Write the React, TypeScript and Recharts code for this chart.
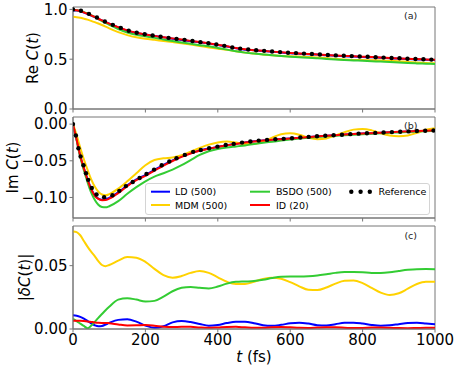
import React from "react";
import { ComposedChart, Line, XAxis, YAxis, ReferenceArea } from "recharts";

// time grid (fs) shared by the method curves
const T = [
  0, 10, 20, 30, 40, 50, 60, 70, 80, 90, 100,
  125, 150, 175, 200, 225, 250, 275, 300,
  325, 350, 375, 400, 425, 450, 475, 500,
  525, 550, 575, 600, 625, 650, 675, 700,
  725, 750, 775, 800, 825, 850, 875, 900,
  925, 950, 975, 1000,
];

// Re C(t)
const reLD = [
  0.99, 0.988, 0.98, 0.968, 0.954, 0.939, 0.923, 0.906, 0.889, 0.873, 0.857,
  0.82, 0.786, 0.762, 0.748, 0.734, 0.719, 0.706, 0.693,
  0.681, 0.67, 0.658, 0.643, 0.627, 0.609, 0.596, 0.589,
  0.582, 0.575, 0.567, 0.56, 0.555, 0.55, 0.546, 0.54,
  0.535, 0.53, 0.526, 0.522, 0.519, 0.515, 0.51, 0.506,
  0.501, 0.498, 0.494, 0.492,
];
const reMDM = [
  0.925, 0.922, 0.916, 0.907, 0.897, 0.885, 0.872, 0.858, 0.843, 0.827, 0.81,
  0.772, 0.742, 0.72, 0.705, 0.694, 0.683, 0.672, 0.661,
  0.647, 0.632, 0.618, 0.606, 0.594, 0.579, 0.566, 0.556,
  0.547, 0.539, 0.533, 0.529, 0.526, 0.523, 0.518, 0.511,
  0.503, 0.497, 0.493, 0.491, 0.49, 0.488, 0.485, 0.48,
  0.473, 0.467, 0.462, 0.459,
];
const reBSDO = [
  0.993, 0.991, 0.984, 0.973, 0.96, 0.943, 0.924, 0.903, 0.883, 0.864, 0.846,
  0.803, 0.768, 0.744, 0.73, 0.714, 0.697, 0.682, 0.668,
  0.654, 0.641, 0.629, 0.613, 0.596, 0.58, 0.566, 0.556,
  0.548, 0.539, 0.531, 0.525, 0.52, 0.515, 0.509, 0.503,
  0.497, 0.492, 0.488, 0.484, 0.48, 0.476, 0.472, 0.467,
  0.462, 0.458, 0.455, 0.452,
];
const reID = [
  0.994, 0.992, 0.983, 0.97, 0.955, 0.94, 0.924, 0.906, 0.89, 0.873, 0.857,
  0.822, 0.789, 0.765, 0.749, 0.734, 0.72, 0.709, 0.697,
  0.684, 0.672, 0.659, 0.644, 0.629, 0.612, 0.599, 0.591,
  0.584, 0.576, 0.569, 0.563, 0.558, 0.553, 0.548, 0.542,
  0.537, 0.533, 0.529, 0.525, 0.521, 0.516, 0.512, 0.508,
  0.504, 0.501, 0.497, 0.494,
];

// Im C(t)
const imLD = [
  0, -0.021, -0.043, -0.06, -0.075, -0.088, -0.097, -0.1015, -0.103, -0.1025, -0.1005,
  -0.093, -0.0835, -0.0755, -0.0695, -0.0625, -0.0555, -0.0495, -0.044,
  -0.0395, -0.036, -0.0333, -0.031, -0.0287, -0.0268, -0.025, -0.0235,
  -0.0222, -0.0212, -0.0204, -0.0196, -0.0186, -0.0176, -0.0167, -0.0159,
  -0.0151, -0.0143, -0.0136, -0.0129, -0.0123, -0.0117, -0.0111, -0.0106,
  -0.01, -0.0095, -0.0091, -0.0087,
];
const imMDM = [
  0, -0.015, -0.032, -0.048, -0.062, -0.075, -0.085, -0.092, -0.096, -0.097, -0.0955,
  -0.088, -0.078, -0.067, -0.056, -0.049, -0.0465, -0.0455, -0.0425,
  -0.0375, -0.0325, -0.028, -0.025, -0.0238, -0.0252, -0.0272, -0.027,
  -0.024, -0.0185, -0.0138, -0.0125, -0.0145, -0.0185, -0.0205, -0.0195,
  -0.0155, -0.011, -0.0075, -0.0065, -0.0085, -0.0125, -0.0155, -0.0165,
  -0.0155, -0.012, -0.0075, -0.0055,
];
const imBSDO = [
  0, -0.022, -0.045, -0.063, -0.079, -0.093, -0.103, -0.11, -0.113, -0.1135, -0.112,
  -0.105, -0.095, -0.086, -0.078, -0.0715, -0.067, -0.062, -0.056,
  -0.049, -0.042, -0.037, -0.034, -0.032, -0.0305, -0.029, -0.0272,
  -0.0255, -0.024, -0.0225, -0.021, -0.0197, -0.0185, -0.0175, -0.0167,
  -0.016, -0.0152, -0.0145, -0.0138, -0.0131, -0.0125, -0.0119, -0.0113,
  -0.0107, -0.0102, -0.0097, -0.0093,
];
const imID = [
  0, -0.021, -0.043, -0.06, -0.0755, -0.0885, -0.0975, -0.102, -0.1037, -0.1035, -0.1015,
  -0.094, -0.0845, -0.0765, -0.0705, -0.0635, -0.0565, -0.0503, -0.0447,
  -0.04, -0.0364, -0.0336, -0.0312, -0.0289, -0.027, -0.0252, -0.0236,
  -0.0223, -0.0213, -0.0205, -0.0197, -0.0187, -0.0177, -0.0167, -0.0159,
  -0.0151, -0.0143, -0.0136, -0.0129, -0.0123, -0.0117, -0.0111, -0.0105,
  -0.01, -0.0095, -0.009, -0.0087,
];

// |dC(t)|
const dLD = [
  0.0108, 0.0105, 0.0096, 0.0082, 0.0064, 0.0045, 0.003, 0.0022, 0.0024, 0.0035, 0.0048,
  0.0072, 0.0076, 0.0058, 0.0028, 0.0009, 0.0022, 0.0052, 0.0063,
  0.0055, 0.004, 0.0026, 0.0032, 0.0047, 0.0057, 0.0057, 0.0046,
  0.003, 0.0025, 0.0033, 0.0045, 0.005, 0.0043, 0.003, 0.0028,
  0.0038, 0.0049, 0.005, 0.0043, 0.0032, 0.0026, 0.0029, 0.0038,
  0.0047, 0.005, 0.0044, 0.0037,
];
const dMDM = [
  0.077, 0.0765, 0.074, 0.0695, 0.065, 0.061, 0.0575, 0.0535, 0.0505, 0.0496, 0.0505,
  0.054, 0.0568, 0.0563, 0.053, 0.0475, 0.0425, 0.0405, 0.0418,
  0.0443, 0.0458, 0.0443, 0.0408, 0.0373, 0.0355, 0.0355, 0.0373,
  0.0395, 0.0405, 0.0397, 0.037, 0.0337, 0.031, 0.0308, 0.0328,
  0.0358, 0.038, 0.0383, 0.0362, 0.0325, 0.0287, 0.0268, 0.0282,
  0.0318, 0.0355, 0.0373, 0.0373,
];
const dBSDO = [
  0.008, 0.0062, 0.0043, 0.0024, 0.0006, 0.0025, 0.0055, 0.0088, 0.0118, 0.0148, 0.0175,
  0.0232, 0.0243, 0.0232, 0.0217, 0.0222, 0.0255, 0.0298, 0.0325,
  0.0332, 0.0325, 0.032, 0.0335, 0.0358, 0.0372, 0.0375, 0.0378,
  0.0388, 0.0402, 0.0412, 0.0414, 0.0414, 0.0416, 0.0422, 0.0432,
  0.0443, 0.0449, 0.0449, 0.0447, 0.0443, 0.0443, 0.0448, 0.0458,
  0.0467, 0.0472, 0.0473, 0.0472,
];
const dID = [
  0.0066, 0.0066, 0.0065, 0.0063, 0.006, 0.0056, 0.0052, 0.0049, 0.0048, 0.0048, 0.0046,
  0.0036, 0.0028, 0.0029, 0.0031, 0.0026, 0.0018, 0.0015, 0.0018,
  0.0017, 0.0012, 0.0009, 0.0012, 0.0016, 0.0017, 0.0013, 0.0009,
  0.001, 0.0014, 0.0016, 0.0013, 0.0009, 0.0008, 0.0011, 0.0014,
  0.0013, 0.001, 0.0007, 0.0008, 0.0011, 0.0012, 0.001, 0.0007,
  0.0006, 0.0008, 0.001, 0.0009,
];

// reference markers
const refReT = [
  0, 22, 44, 66, 88, 110, 132, 154, 176, 198, 220, 242, 264, 286, 308, 330,
  352, 374, 396, 418, 440, 462, 484, 506, 528, 550, 572, 594, 616, 638, 660,
  682, 704, 726, 748, 770, 792, 814, 836, 858, 880, 902, 924, 946, 968, 990,
];
const refRe = [
  1.0, 0.986, 0.955, 0.918, 0.879, 0.845, 0.814, 0.786, 0.765, 0.751, 0.738,
  0.725, 0.714, 0.704, 0.694, 0.682, 0.671, 0.66, 0.647, 0.634, 0.618, 0.606,
  0.597, 0.59, 0.584, 0.577, 0.571, 0.565, 0.561, 0.556, 0.552, 0.547, 0.542,
  0.538, 0.534, 0.531, 0.527, 0.524, 0.52, 0.516, 0.512, 0.509, 0.505, 0.502,
  0.499, 0.496,
];
const refImT = [
  0, 8, 15, 21, 29, 36, 42, 52, 65, 86, 109, 128, 146, 165, 184, 203, 224,
  245, 266, 286, 309, 332, 353, 376, 399, 422, 444, 467, 490, 513, 536, 559,
  582, 605, 628, 651, 674, 697, 720, 743, 766, 789, 812, 835, 858, 881, 904,
  927, 950, 973, 996,
];
const refIm = [
  0, -0.0156, -0.033, -0.044, -0.056, -0.067, -0.076, -0.087, -0.096, -0.0996,
  -0.097, -0.091, -0.0845, -0.079, -0.0735, -0.068, -0.062, -0.056, -0.051, -0.0466,
  -0.042, -0.0378, -0.0352, -0.0329, -0.0307, -0.0284, -0.027, -0.0252, -0.0238, -0.0225,
  -0.0215, -0.0206, -0.0201, -0.0192, -0.0183, -0.0174, -0.0165, -0.0158, -0.0151, -0.0144,
  -0.0137, -0.013, -0.0125, -0.012, -0.0114, -0.0109, -0.0104, -0.0099, -0.0094, -0.009,
  -0.0087,
];

const X_TICKS = [0, 200, 400, 600, 800, 1000];
const LEGEND_LABELS = ["LD (500)", "MDM (500)", "BSDO (500)", "ID (20)", "Reference"];

const FONT = "DejaVu Sans";
const AXIS = "#777";
const COLORS = ["#0000ff", "#ffd200", "#33cc33", "#ff0000"];

const zip = (ts: number[], vs: number[]) => ts.map((t, i) => ({ t, v: vs[i] }));

const fmt2 = (v: number) => (v < 0 ? "\u2212" : "") + Math.abs(v).toFixed(2);

function YLab({ viewBox, cx, kind }: any) {
  const cy = viewBox.y + viewBox.height / 2;
  const it = { fontStyle: "italic" as const };
  return (
    <text
      x={cx}
      y={cy}
      transform={`rotate(-90 ${cx} ${cy})`}
      textAnchor="middle"
      dominantBaseline="central"
      fontSize={15}
      fontFamily={FONT}
      fill="#000"
    >
      {kind === "re" && (
        <>
          Re <tspan {...it}>C</tspan>(<tspan {...it}>t</tspan>)
        </>
      )}
      {kind === "im" && (
        <>
          Im <tspan {...it}>C</tspan>(<tspan {...it}>t</tspan>)
        </>
      )}
      {kind === "d" && (
        <>
          |<tspan {...it}>δC</tspan>(<tspan {...it}>t</tspan>)|
        </>
      )}
    </text>
  );
}

function XLab({ viewBox }: any) {
  const cx = viewBox.x + viewBox.width / 2;
  const cy = viewBox.y + 28;
  return (
    <text x={cx} y={cy} textAnchor="middle" dominantBaseline="central" fontSize={15} fontFamily={FONT} fill="#000">
      <tspan fontStyle="italic">t</tspan> (fs)
    </text>
  );
}

function Panel({ top, height, mb = 0, bottom, domain, ticks, fmt, series, refPts, kind, labelX }: any) {
  return (
    <div style={{ position: "absolute", left: 0, top }}>
      <ComposedChart width={458} height={height} margin={{ top: 7, right: 23, bottom: mb, left: 0 }}>
        <XAxis
          dataKey="t"
          type="number"
          domain={[0, 1000]}
          ticks={X_TICKS}
          interval={0}
          allowDataOverflow
          height={bottom ? 37 : 4}
          tickSize={3.5}
          tickMargin={2}
          tickFormatter={bottom ? (v: number) => String(v) : () => ""}
          tick={{ fill: "#000", fontSize: 15, fontFamily: FONT }}
          axisLine={{ stroke: AXIS }}
          tickLine={{ stroke: AXIS }}
          label={bottom ? <XLab /> : undefined}
        />
        <YAxis
          type="number"
          domain={domain}
          ticks={ticks}
          interval={0}
          allowDataOverflow
          width={73}
          tickSize={3.5}
          tickMargin={2}
          tickFormatter={fmt}
          tick={{ fill: "#000", fontSize: 15, fontFamily: FONT }}
          axisLine={{ stroke: AXIS }}
          tickLine={{ stroke: AXIS }}
          label={<YLab cx={labelX} kind={kind} />}
        />
        <ReferenceArea x1={0} x2={1000} y1={domain[0]} y2={domain[1]} fill="none" stroke={AXIS} ifOverflow="visible" />
        {series.map((vals: number[], i: number) => (
          <Line
            key={i}
            data={zip(T, vals)}
            dataKey="v"
            type="monotone"
            stroke={COLORS[i]}
            strokeWidth={2}
            dot={false}
            isAnimationActive={false}
          />
        ))}
        {refPts && (
          <Line
            data={refPts}
            dataKey="v"
            stroke="none"
            dot={{ r: 2.2, fill: "#000", stroke: "none" }}
            isAnimationActive={false}
          />
        )}
      </ComposedChart>
    </div>
  );
}

function Overlay() {
  const rowY = [191.7, 205];
  return (
    <svg width={458} height={366} style={{ position: "absolute", left: 0, top: 0, pointerEvents: "none" }}>
      <g fontFamily={FONT} fontSize={9.5} fill="#222">
        <text x={410.7} y={15} textAnchor="middle" dominantBaseline="central">(a)</text>
        <text x={410.7} y={125} textAnchor="middle" dominantBaseline="central">(b)</text>
        <text x={410.7} y={235} textAnchor="middle" dominantBaseline="central">(c)</text>
      </g>
      <rect x={145.5} y={183.5} width={284} height={31} rx={2.5} fill="#fff" fillOpacity={0.85} stroke="#d4d4d4" />
      <g fontFamily={FONT} fontSize={9.5} fill="#000">
        {[0, 1].map((r) => (
          <g key={"c0" + r}>
            <line x1={151} x2={170} y1={rowY[r]} y2={rowY[r]} stroke={COLORS[r]} strokeWidth={2} />
            <text x={175} y={rowY[r]} dominantBaseline="central">{LEGEND_LABELS[r]}</text>
          </g>
        ))}
        {[0, 1].map((r) => (
          <g key={"c1" + r}>
            <line x1={250} x2={270} y1={rowY[r]} y2={rowY[r]} stroke={COLORS[2 + r]} strokeWidth={2} />
            <text x={276} y={rowY[r]} dominantBaseline="central">{LEGEND_LABELS[2 + r]}</text>
          </g>
        ))}
        {[351.3, 360.6, 369.8].map((cx) => (
          <circle key={cx} cx={cx} cy={rowY[0]} r={2.2} fill="#000" />
        ))}
        <text x={378.5} y={rowY[0]} dominantBaseline="central">{LEGEND_LABELS[4]}</text>
      </g>
    </svg>
  );
}

export default function App() {
  return (
    <div style={{ position: "absolute", left: 0, top: 0, width: 458, height: 366, background: "#fff" }}>
      <Panel
        top={0}
        height={120}
        mb={7}
        domain={[0, 1.024]}
        ticks={[0, 0.5, 1.0]}
        fmt={(v: number) => v.toFixed(1)}
        series={[reLD, reMDM, reBSDO, reID]}
        refPts={zip(refReT, refRe)}
        kind="re"
        labelX={33}
      />
      <Panel
        top={110}
        height={112}
        domain={[-0.128, 0.0097]}
        ticks={[-0.1, -0.05, 0]}
        fmt={fmt2}
        series={[imLD, imMDM, imBSDO, imID]}
        refPts={zip(refImT, refIm)}
        kind="im"
        labelX={13}
      />
      <Panel
        top={219}
        height={147}
        bottom
        domain={[0, 0.0813]}
        ticks={[0, 0.05]}
        fmt={fmt2}
        series={[dLD, dMDM, dBSDO, dID]}
        kind="d"
        labelX={24.5}
      />
      <Overlay />
    </div>
  );
}
